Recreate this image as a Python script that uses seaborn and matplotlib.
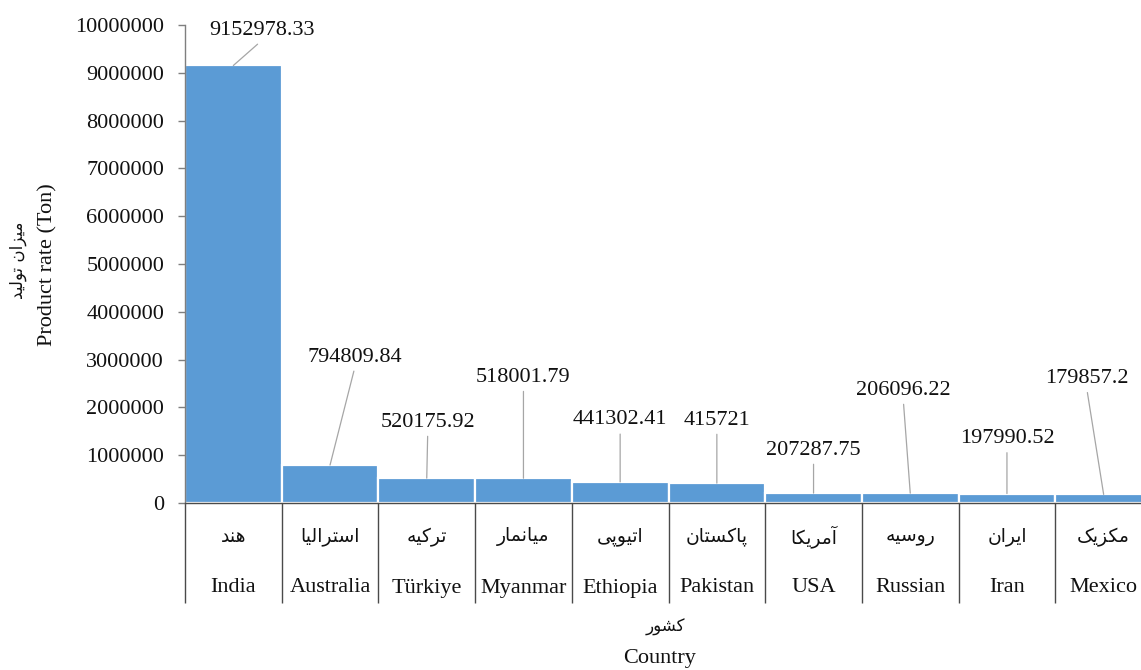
import matplotlib
matplotlib.use("Agg")
import matplotlib.pyplot as plt
import matplotlib.ticker as mticker
import matplotlib.transforms as mtransforms
import numpy as np
import pandas as pd
import seaborn as sns

# ---- data -------------------------------------------------------------
countries_fa = ["هند", "استرالیا", "ترکیه", "میانمار", "اتیوپی",
                "پاکستان", "آمریکا", "روسیه", "ایران", "مکزیک"]
countries_en = ["India", "Australia", "Türkiye", "Myanmar", "Ethiopia",
                "Pakistan", "USA", "Russian", "Iran", "Mexico"]
production = [9152978.33, 794809.84, 520175.92, 518001.79, 441302.41,
              415721.0, 207287.75, 206096.22, 197990.52, 179857.2]
y_ticks = [0, 1000000, 2000000, 3000000, 4000000, 5000000,
           6000000, 7000000, 8000000, 9000000, 10000000]

# label placement: offset of each value label from its bar top (pixels)
label_dx = [29, 25, 1, 0, 0, 0, 0, -7, 0, -17]
label_dy = [35, 108, 56, 101, 62, 63, 43, 103, 55, 116]

# ---- minimal Persian shaping (presentation forms + RTL order) ---------
# (isolated, final, initial, medial); right-joining letters have no initial/medial
FORMS = {
    "ا": (0xFE8D, 0xFE8E, None, None),
    "آ": (0xFE81, 0xFE82, None, None),
    "د": (0xFEA9, 0xFEAA, None, None),
    "ر": (0xFEAD, 0xFEAE, None, None),
    "ز": (0xFEAF, 0xFEB0, None, None),
    "و": (0xFEED, 0xFEEE, None, None),
    "ت": (0xFE95, 0xFE96, 0xFE97, 0xFE98),
    "پ": (0xFB56, 0xFB57, 0xFB58, 0xFB59),
    "س": (0xFEB1, 0xFEB2, 0xFEB3, 0xFEB4),
    "ش": (0xFEB5, 0xFEB6, 0xFEB7, 0xFEB8),
    "ک": (0xFB8E, 0xFB8F, 0xFB90, 0xFB91),
    "ل": (0xFEDD, 0xFEDE, 0xFEDF, 0xFEE0),
    "م": (0xFEE1, 0xFEE2, 0xFEE3, 0xFEE4),
    "ن": (0xFEE5, 0xFEE6, 0xFEE7, 0xFEE8),
    "ه": (0xFEE9, 0xFEEA, 0xFEEB, 0xFEEC),
    "ی": (0xFBFC, 0xFBFD, 0xFBFE, 0xFBFF),
}


def fa(text):
    out = []
    for i, ch in enumerate(text):
        if ch not in FORMS:
            out.append(ch)
            continue
        iso, fin, ini, med = FORMS[ch]
        prev = text[i - 1] if i > 0 else ""
        nxt = text[i + 1] if i + 1 < len(text) else ""
        join_prev = prev in FORMS and FORMS[prev][2] is not None
        join_next = ini is not None and nxt in FORMS
        if join_prev and join_next:
            code = med
        elif join_prev:
            code = fin
        elif join_next:
            code = ini
        else:
            code = iso
        out.append(chr(code))
    return "".join(reversed(out))


def fmt_value(v):
    return f"{v:.2f}".rstrip("0").rstrip(".")


# ---- style ------------------------------------------------------------
sns.set_theme(style="ticks")
plt.rcParams["font.family"] = ["Liberation Serif", "DejaVu Sans"]
plt.rcParams["axes.unicode_minus"] = False

EN_SIZE = 16
FA_SIZE = 13.5
FA_TITLE_SIZE = 12
TXT = "#111111"

DPI = 100
W, H = 1141, 670
fig = plt.figure(figsize=(W / DPI, H / DPI), dpi=DPI)
fig.patch.set_facecolor("white")

# axes spans from the y axis at x=185 to a right edge just past the frame
left, right = 185 / W, 1152 / W
bottom, top = (H - 503) / H, (H - 25) / H
ax = fig.add_axes([left, bottom, right - left, top - bottom])
ax.set_facecolor("white")

df = pd.DataFrame({"country": countries_en, "production": production})
sns.barplot(data=df, x="country", y="production", order=countries_en,
            color="#5B9BD5", saturation=1, width=1.0,
            edgecolor="white", linewidth=1.6, ax=ax)

ax.set_xlim(-0.5, len(countries_en) - 0.5)
ax.set_ylim(0, 10000000)
ax.set_yticks(y_ticks)
ax.yaxis.set_major_formatter(mticker.FuncFormatter(lambda v, _: f"{int(round(v))}"))

axis_col = "#4a4a4a"
for s in ["top", "right"]:
    ax.spines[s].set_visible(False)
ax.spines["left"].set_color("#7f7f7f")
ax.spines["bottom"].set_color(axis_col)
ax.spines["left"].set_linewidth(1.0)
ax.spines["bottom"].set_linewidth(1.0)

ax.tick_params(axis="y", direction="out", length=5, width=1.0, color="#7f7f7f",
               labelsize=EN_SIZE, pad=10, labelcolor=TXT)

# category separators: long ticks at the category boundaries
ax.set_xticks(np.arange(-0.5, len(countries_en), 1.0))
ax.set_xticklabels([])
ax.tick_params(axis="x", direction="out", length=72, width=1.0, color=axis_col)
ax.set_xlabel("")
ax.set_ylabel("")

# two-row category labels
px = 1.0 / DPI * 72  # points per pixel
trans_lab = mtransforms.blended_transform_factory(ax.transData, fig.transFigure)
for i, (f_name, e_name) in enumerate(zip(countries_fa, countries_en)):
    ax.text(i, (H - 537) / H, fa(f_name), transform=trans_lab, ha="center",
            va="center", fontsize=FA_SIZE, family=["DejaVu Sans"], color=TXT)
    ax.text(i, (H - 588) / H, e_name, transform=trans_lab, ha="center",
            va="center", fontsize=EN_SIZE, color=TXT)

# value labels with leader lines
for i, v in enumerate(production):
    ax.annotate(fmt_value(v), xy=(i, v),
                xytext=(label_dx[i] * px, label_dy[i] * px),
                textcoords="offset points", ha="center", va="center",
                fontsize=EN_SIZE, color=TXT,
                arrowprops=dict(arrowstyle="-", color="#a6a6a6", lw=0.9,
                                shrinkA=1, shrinkB=0, relpos=(0.5, 0.0)))

# axis titles
fig.text(18 / W, (H - 260) / H, fa("میزان تولید"), rotation=90, ha="center",
         va="center", fontsize=FA_TITLE_SIZE, family=["DejaVu Sans"], color=TXT)
fig.text(48 / W, (H - 265) / H, "Product rate (Ton)", rotation=90,
         ha="center", va="center", fontsize=EN_SIZE, color=TXT)
fig.text(665 / W, (H - 627) / H, fa("کشور"), ha="center", va="center",
         fontsize=FA_TITLE_SIZE, family=["DejaVu Sans"], color=TXT)
fig.text(660 / W, (H - 659) / H, "Country", ha="center", va="center",
         fontsize=EN_SIZE, color=TXT)

fig.savefig("out.png", dpi=DPI)
